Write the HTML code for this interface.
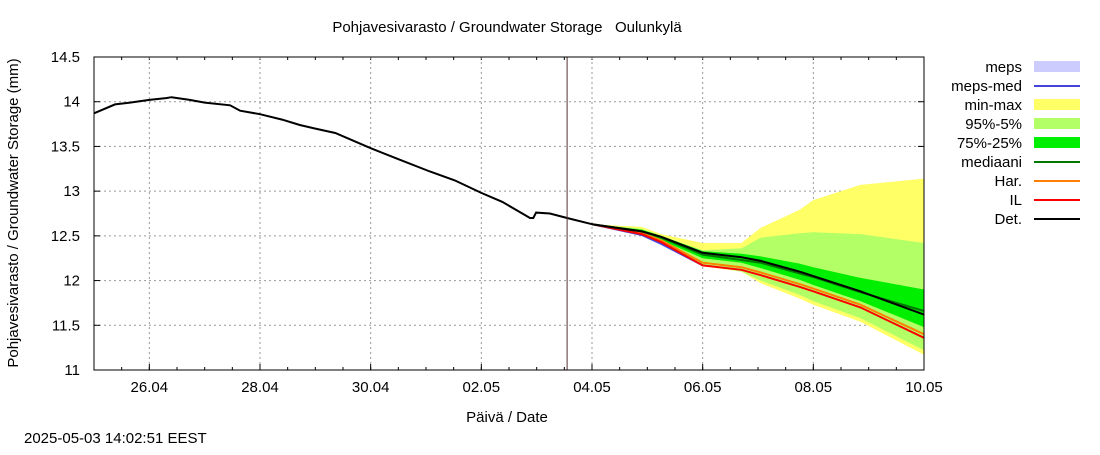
<!DOCTYPE html>
<html><head><meta charset="utf-8"><style>
body{margin:0;background:#fff;width:1100px;height:450px;overflow:hidden;font-family:"Liberation Sans","DejaVu Sans",sans-serif}
svg text{font-family:"Liberation Sans","DejaVu Sans",sans-serif;font-size:15px;fill:#000}
</style></head><body>
<svg id="c" width="1100" height="450"></svg>
<script>
const histDays=[0,0.38,0.65,1.0,1.3,1.4,1.73,2.0,2.46,2.64,3.0,3.4,3.72,3.99,4.36,5.0,5.53,6.07,6.52,7.0,7.38,7.74,7.88,7.94,7.99,8.24,8.55,9.0];
const histVals=[13.87,13.97,13.99,14.02,14.04,14.05,14.02,13.99,13.96,13.9,13.86,13.8,13.74,13.7,13.65,13.48,13.35,13.22,13.12,12.98,12.88,12.75,12.7,12.7,12.76,12.75,12.7,12.63];
const fDays=[9,9.9,10.25,11,11.7,12.05,12.75,13,13.85,15];
const minVals=[12.63,12.55,12.4,12.16,12.1,11.97,11.8,11.73,11.54,11.17];
const maxVals=[12.63,12.6,12.52,12.42,12.42,12.59,12.79,12.9,13.07,13.14];
const p5Vals=[12.63,12.55,12.41,12.17,12.1,12.0,11.84,11.77,11.58,11.22];
const p95Vals=[12.63,12.58,12.5,12.34,12.36,12.48,12.53,12.54,12.52,12.42];
const p25Vals=[12.63,12.56,12.45,12.25,12.2,12.14,12.01,11.95,11.77,11.48];
const p75Vals=[12.63,12.57,12.5,12.33,12.3,12.27,12.19,12.15,12.03,11.9];
const medVals=[12.63,12.55,12.48,12.29,12.23,12.2,12.08,12.04,11.87,11.66];
const detVals=[12.63,12.55,12.49,12.31,12.26,12.22,12.1,12.05,11.88,11.62];
const ilVals=[12.63,12.52,12.43,12.17,12.12,12.06,11.93,11.88,11.7,11.36];
const harVals=[12.63,12.53,12.45,12.2,12.15,12.09,11.96,11.91,11.73,11.4];
const mepsVals=[12.63,12.51,12.41,12.17];
const yTicks=[11,11.5,12,12.5,13,13.5,14,14.5];
const yTickLabels=["11","11.5","12","12.5","13","13.5","14","14.5"];
const xTickDays=[1,3,5,7,9,11,13,15];
const xTickLabels=["26.04","28.04","30.04","02.05","04.05","06.05","08.05","10.05"];
const nowDay=8.55;

const L=94,R=924,T=57,B=370,NS='http://www.w3.org/2000/svg',svg=document.getElementById('c');
const X=d=>L+(d/15)*(R-L), Y=v=>T+(14.5-v)/3.5*(B-T);
function el(t,a,p){const e=document.createElementNS(NS,t);for(const k in a)e.setAttribute(k,a[k]);(p||svg).appendChild(e);return e;}
function txt(s,x,y,anchor,p){const e=el('text',{x,y,'text-anchor':anchor||'start'},p);e.textContent=s;return e;}
function pts(ds,vs){return ds.map((d,i)=>X(d).toFixed(1)+','+Y(vs[i]).toFixed(1)).join(' ');}
function band(lo,hi,col,name){const p=el('polygon',{points:pts(fDays,hi)+' '+pts(fDays.slice().reverse(),lo.slice().reverse()),fill:col});

}
function line(ds,vs,col,w,name){const p=el('polyline',{points:pts(ds,vs),fill:'none',stroke:col,'stroke-width':w});

}

const t=txt('Pohjavesivarasto / Groundwater Storage\u00a0\u00a0\u00a0Oulunkylä',507,32,'middle');


const g=el('g',{});


yTicks.forEach((v,i)=>{const y=Y(v);
 if(i>0&&i<yTicks.length-1)el('line',{x1:L,x2:R,y1:y,y2:y,stroke:'#999','stroke-dasharray':'2,3'},g);
 el('line',{x1:L,x2:L+6,y1:y,y2:y,stroke:'#000'},g);el('line',{x1:R-6,x2:R,y1:y,y2:y,stroke:'#000'},g);
 const l=txt(yTickLabels[i],80,y+5,'end');
 
 });
for(let d=0;d<=15;d+=0.5){const x=X(d);el('line',{x1:x,x2:x,y1:B,y2:B-3,stroke:'#000'},g);el('line',{x1:x,x2:x,y1:T,y2:T+3,stroke:'#000'},g);}
xTickDays.forEach((d,i)=>{const x=X(d);
 if(d<15)el('line',{x1:x,x2:x,y1:T,y2:B,stroke:'#999','stroke-dasharray':'2,3'},g);
 el('line',{x1:x,x2:x,y1:B,y2:B-6,stroke:'#000'},g);
 const l=txt(xTickLabels[i],x,392,'middle');
 
 });
band(minVals,maxVals,'#ffff66','min-max-band');
band(p5Vals,p95Vals,'#b3ff66','p95-p5-band');
band(p25Vals,p75Vals,'#00ee00','p75-p25-band');
line(fDays.slice(0,4),mepsVals,'#4444dd',2,'meps-med-line');
line(fDays,harVals,'#ff8000',2,'har-line');
line(fDays,ilVals,'#ff0000',2,'il-line');
line(fDays,medVals,'#007700',2,'median-line');
line(histDays,histVals,'#000',2,'history-line');
line(fDays,detVals,'#000',2,'det-line');
const nl=el('line',{x1:X(nowDay),x2:X(nowDay),y1:T,y2:B,stroke:'#553333','stroke-width':1});


const fr=el('rect',{x:L,y:T,width:R-L,height:B-T,fill:'none',stroke:'#000'});


const yt=txt('Pohjavesivarasto / Groundwater Storage (mm)',0,0,'middle');yt.setAttribute('transform','translate(18,213) rotate(-90)');


const xt=txt('Päivä / Date',507,422,'middle');


const ts=txt('2025-05-03 14:02:51 EEST',24,443);


const leg=[['meps','#ccccff',1],['meps-med','#4444dd',0],['min-max','#ffff66',1],['95%-5%','#b3ff66',1],['75%-25%','#00ee00',1],['mediaani','#007700',0],['Har.','#ff8000',0],['IL','#ff0000',0],['Det.','#000',0]];
leg.forEach((e,i)=>{const y=67+i*19;const gg=el('g',{});
 
 
 txt(e[0],1022,y+5,'end',gg);
 if(e[2])el('rect',{x:1034,y:y-6,width:46,height:11,fill:e[1]},gg);
 else el('line',{x1:1034,x2:1080,y1:y,y2:y,stroke:e[1],'stroke-width':2},gg);});
</script>
</body></html>
